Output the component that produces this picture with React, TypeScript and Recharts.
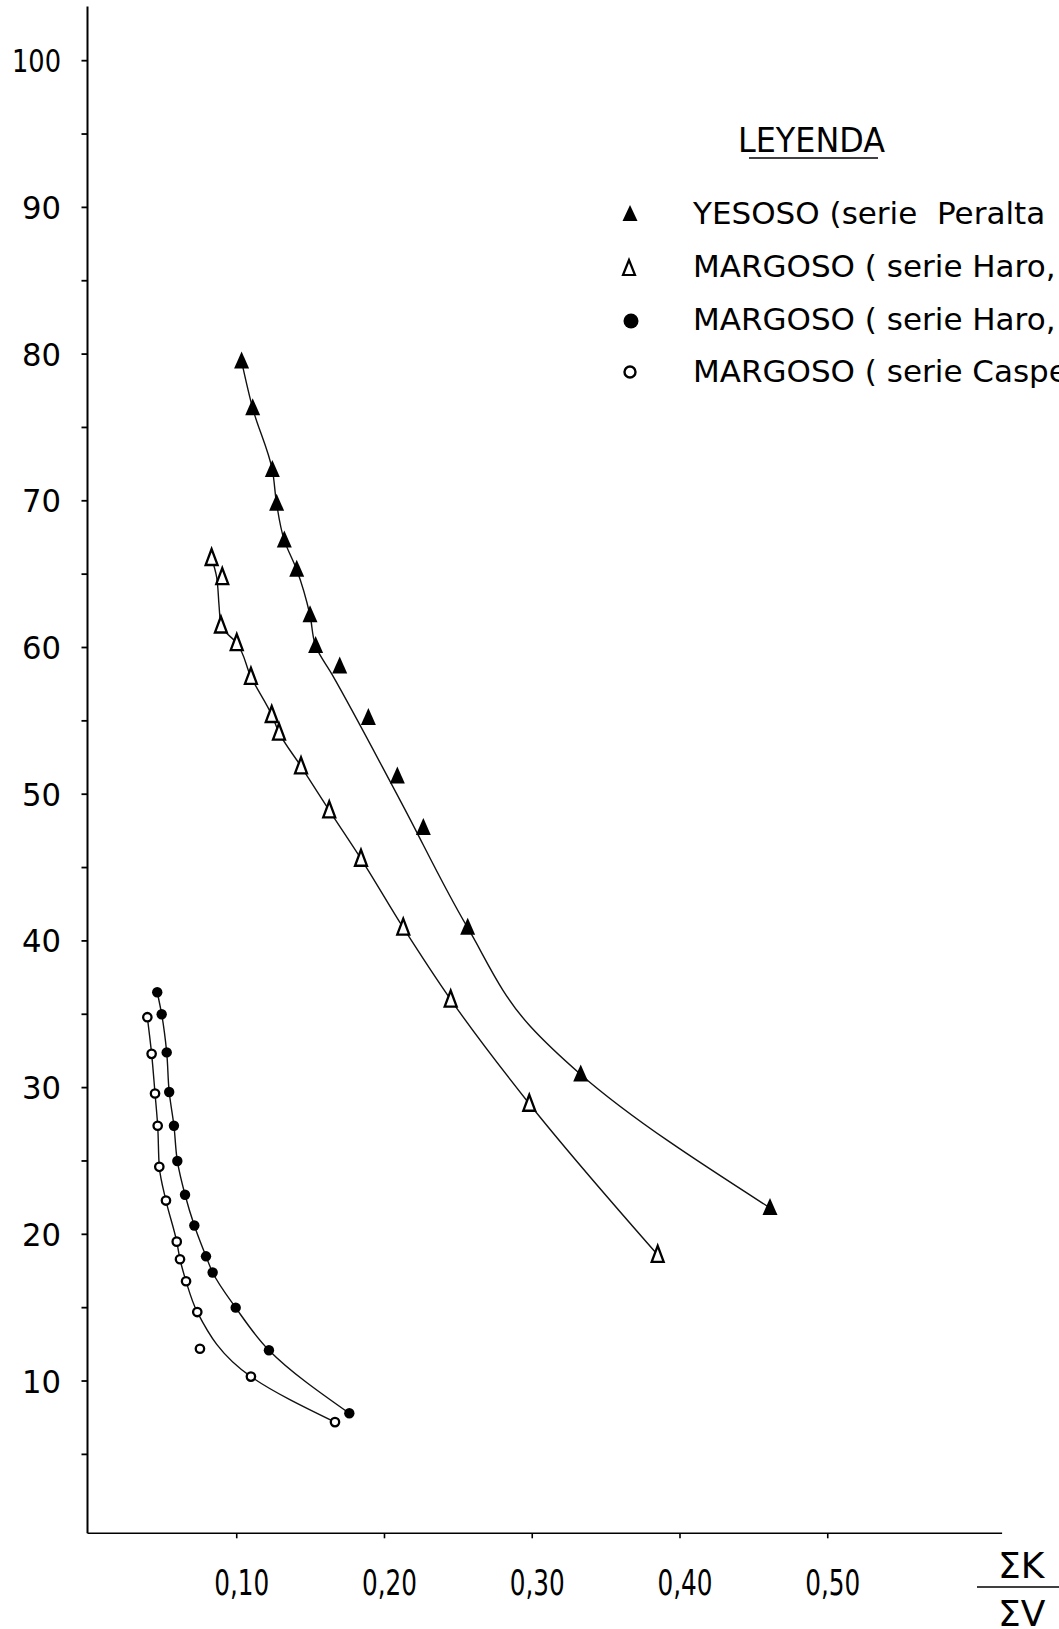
import React from "react";
import { ScatterChart, Scatter, XAxis, YAxis } from "recharts";

if (typeof document !== "undefined") {
  document.body.style.margin = "0";
  document.body.style.overflow = "hidden";
}

// ---- tick values / labels ----
const X_TICKS = [0.1, 0.2, 0.3, 0.4, 0.5];
const X_TICK_LABELS = ["0,10", "0,20", "0,30", "0,40", "0,50"];
const Y_TICKS = [5, 10, 15, 20, 25, 30, 35, 40, 45, 50, 55, 60, 65, 70, 75, 80, 85, 90, 95, 100];

// ---- measured points ----
// YESOSO (serie Peralta) - filled triangles
const yesosoX = [0.1033, 0.1108, 0.1241, 0.127, 0.1322, 0.1406, 0.1496, 0.1534, 0.1697, 0.1891, 0.2087, 0.2263, 0.2563, 0.3328, 0.4609];
const yesosoY = [79.5, 76.3, 72.1, 69.8, 67.3, 65.3, 62.2, 60.1, 58.7, 55.2, 51.2, 47.7, 40.9, 30.9, 21.8];
// MARGOSO (serie Haro) - open triangles
const haroTriX = [0.083, 0.0902, 0.0893, 0.1, 0.1096, 0.1237, 0.1286, 0.1435, 0.1626, 0.1841, 0.2127, 0.2448, 0.298, 0.3849];
const haroTriY = [66.1, 64.8, 61.5, 60.3, 58.0, 55.4, 54.2, 51.9, 48.9, 45.6, 40.9, 36.0, 28.9, 18.6];
// MARGOSO (serie Haro) - filled circles
const haroDotX = [0.0462, 0.0492, 0.0526, 0.0543, 0.0575, 0.0598, 0.065, 0.0713, 0.0792, 0.0837, 0.0993, 0.1218, 0.1762];
const haroDotY = [36.5, 35.0, 32.4, 29.7, 27.4, 25.0, 22.7, 20.6, 18.5, 17.4, 15.0, 12.1, 7.8];
// MARGOSO (serie Caspe) - open circles
const caspeX = [0.0395, 0.0424, 0.0447, 0.0465, 0.0476, 0.0521, 0.0594, 0.0616, 0.0657, 0.0733, 0.0751, 0.1096, 0.1665];
const caspeY = [34.8, 32.3, 29.6, 27.4, 24.6, 22.3, 19.5, 18.3, 16.8, 14.7, 12.2, 10.3, 7.2];

// ---- hand-drawn fitted curves ----
const yesosoCurveX = [0.1033, 0.1108, 0.1241, 0.127, 0.1322, 0.1406, 0.1496, 0.1534, 0.1643, 0.2105, 0.2563, 0.2985, 0.3328, 0.4609];
const yesosoCurveY = [79.5, 76.3, 72.1, 69.8, 67.3, 65.3, 62.2, 60.1, 58.2, 49.6, 40.9, 34.2, 30.9, 21.8];
const haroTriCurveX = [0.083, 0.0864, 0.088, 0.0893, 0.1, 0.1096, 0.1237, 0.1286, 0.1435, 0.1626, 0.1841, 0.2127, 0.2448, 0.298, 0.3849];
const haroTriCurveY = [66.1, 64.8, 62.9, 61.5, 60.3, 58.0, 55.4, 54.2, 51.9, 48.9, 45.6, 40.9, 36.0, 28.9, 18.6];
const haroDotCurveX = [0.0462, 0.0492, 0.0526, 0.0543, 0.0575, 0.0598, 0.065, 0.0713, 0.0792, 0.0837, 0.0993, 0.1218, 0.1762];
const haroDotCurveY = [36.5, 35.0, 32.4, 29.7, 27.4, 25.0, 22.7, 20.6, 18.5, 17.4, 15.0, 12.1, 7.8];
const caspeCurveX = [0.0395, 0.0424, 0.0447, 0.0465, 0.0476, 0.0521, 0.0594, 0.0616, 0.0657, 0.0733, 0.1096, 0.1665];
const caspeCurveY = [34.8, 32.3, 29.6, 27.4, 24.6, 22.3, 19.5, 18.3, 16.8, 14.7, 10.3, 7.2];

const zip = (xs: number[], ys: number[]) => xs.map((x, i) => ({ x, y: ys[i] }));

const yesosoPts = zip(yesosoX, yesosoY);
const haroTriPts = zip(haroTriX, haroTriY);
const haroDotPts = zip(haroDotX, haroDotY);
const caspePts = zip(caspeX, caspeY);
const yesosoCurve = zip(yesosoCurveX, yesosoCurveY);
const haroTriCurve = zip(haroTriCurveX, haroTriCurveY);
const haroDotCurve = zip(haroDotCurveX, haroDotCurveY);
const caspeCurve = zip(caspeCurveX, caspeCurveY);

const FONT = "DejaVu Sans";
const INK = "#000";

// ---- marker shapes ----
const FilledTri = (p: any) => {
  const { cx, cy } = p;
  return <polygon points={`${cx},${cy - 10} ${cx - 7.5},${cy + 7} ${cx + 7.5},${cy + 7}`} fill={INK} />;
};
const OpenTri = (p: any) => {
  const { cx, cy } = p;
  return (
    <polygon
      points={`${cx},${cy - 9} ${cx - 6},${cy + 7} ${cx + 6},${cy + 7}`}
      fill="#fff"
      stroke={INK}
      strokeWidth={2.3}
    />
  );
};
const Dot = (p: any) => <circle cx={p.cx} cy={p.cy} r={5.2} fill={INK} />;
const Ring = (p: any) => <circle cx={p.cx} cy={p.cy} r={4.2} fill="#fff" stroke={INK} strokeWidth={2.3} />;
const NoShape = () => <g />;

const XTick = (props: any) => {
  const { x, y, payload } = props;
  const i = X_TICKS.indexOf(payload.value);
  if (i < 0) return <g />;
  return (
    <text
      x={x + 5}
      y={y + 55}
      textAnchor="middle"
      fontFamily={FONT}
      fontSize={36}
      fill={INK}
      textLength={55}
      lengthAdjust="spacingAndGlyphs"
    >
      {X_TICK_LABELS[i]}
    </text>
  );
};

const YTick = (props: any) => {
  const { x, y, payload } = props;
  const v = payload.value;
  if (v % 10 !== 0) return <g />;
  const label = String(v);
  return (
    <text
      x={x - 18.5}
      y={y + 11.5}
      textAnchor="end"
      fontFamily={FONT}
      fontSize={32}
      fill={INK}
      textLength={label.length > 2 ? 49 : 39}
      lengthAdjust="spacingAndGlyphs"
    >
      {label}
    </text>
  );
};

const curveLine = { stroke: "#111", strokeWidth: 1.4, fill: "none" };

const Legend = () => (
  <svg
    width={1059}
    height={1629}
    style={{ position: "absolute", left: 0, top: 0, pointerEvents: "none" }}
  >
    <text x={738} y={152} fontFamily={FONT} fontSize={34} fill={INK} textLength={147} lengthAdjust="spacingAndGlyphs">
      LEYENDA
    </text>
    <line x1={749} y1={158} x2={878} y2={158} stroke={INK} strokeWidth={1.5} />

    <polygon points="630,205 622.5,221 637.5,221" fill={INK} />
    <text x={693} y={224} fontFamily={FONT} fontSize={31} fill={INK} style={{ whiteSpace: "pre" }}>
      {"YESOSO (serie  Peralta"}
    </text>

    <polygon points="629,260 623,275 635,275" fill="#fff" stroke={INK} strokeWidth={2.2} />
    <text x={693} y={277} fontFamily={FONT} fontSize={31} fill={INK} style={{ whiteSpace: "pre" }}>
      {"MARGOSO ( serie Haro,"}
    </text>

    <circle cx={631} cy={321} r={7.5} fill={INK} />
    <text x={693} y={330} fontFamily={FONT} fontSize={31} fill={INK} style={{ whiteSpace: "pre" }}>
      {"MARGOSO ( serie Haro,"}
    </text>

    <circle cx={630} cy={372} r={5.5} fill="#fff" stroke={INK} strokeWidth={2.4} />
    <text x={693} y={382} fontFamily={FONT} fontSize={31} fill={INK} style={{ whiteSpace: "pre" }}>
      {"MARGOSO ( serie Caspe"}
    </text>

    <text x={998} y={1578} fontFamily={FONT} fontSize={36} fill={INK}>
      ΣK
    </text>
    <line x1={977} y1={1587} x2={1059} y2={1587} stroke={INK} strokeWidth={1.6} />
    <text x={998} y={1626} fontFamily={FONT} fontSize={36} fill={INK}>
      ΣV
    </text>
  </svg>
);

export default function App() {
  return (
    <div style={{ position: "relative", width: 1059, height: 1629, background: "#fff", overflow: "hidden" }}>
      <ScatterChart
        width={1059}
        height={1629}
        margin={{ top: 6.4, right: 56.9, bottom: 35.7, left: 7.5 }}
      >
        <XAxis
          type="number"
          dataKey="x"
          domain={[-0.001, 0.618]}
          allowDataOverflow
          ticks={X_TICKS}
          interval={0}
          height={60}
          tickSize={5}
          axisLine={{ stroke: INK, strokeWidth: 1.6 }}
          tickLine={{ stroke: INK, strokeWidth: 1.6 }}
          tick={XTick}
        />
        <YAxis
          type="number"
          dataKey="y"
          domain={[-0.38, 103.7]}
          allowDataOverflow
          ticks={Y_TICKS}
          interval={0}
          width={80}
          tickSize={6}
          axisLine={{ stroke: INK, strokeWidth: 2 }}
          tickLine={{ stroke: INK, strokeWidth: 1.8 }}
          tick={YTick}
        />
        <Scatter data={yesosoCurve} line={curveLine} lineJointType="monotoneY" shape={NoShape} isAnimationActive={false} />
        <Scatter data={haroTriCurve} line={curveLine} lineJointType="monotoneY" shape={NoShape} isAnimationActive={false} />
        <Scatter data={haroDotCurve} line={curveLine} lineJointType="monotoneY" shape={NoShape} isAnimationActive={false} />
        <Scatter data={caspeCurve} line={curveLine} lineJointType="monotoneY" shape={NoShape} isAnimationActive={false} />
        <Scatter name="YESOSO" data={yesosoPts} shape={FilledTri} isAnimationActive={false} />
        <Scatter name="MARGOSO Haro A" data={haroTriPts} shape={OpenTri} isAnimationActive={false} />
        <Scatter name="MARGOSO Haro B" data={haroDotPts} shape={Dot} isAnimationActive={false} />
        <Scatter name="MARGOSO Caspe" data={caspePts} shape={Ring} isAnimationActive={false} />
      </ScatterChart>
      <Legend />
    </div>
  );
}
